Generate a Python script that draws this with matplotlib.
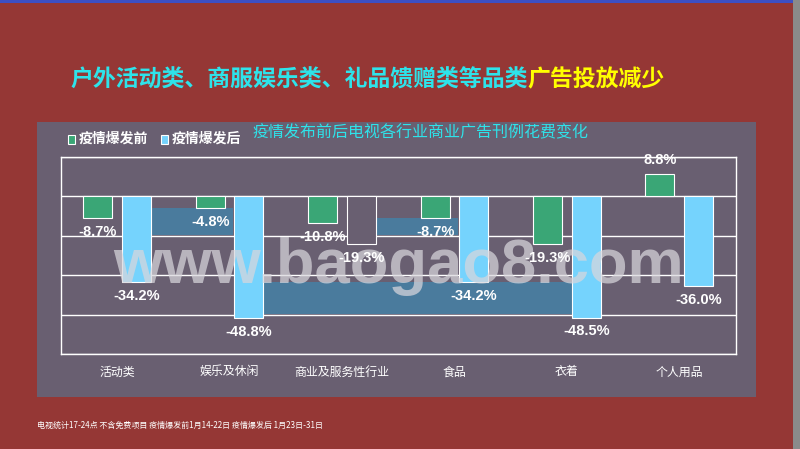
#!/usr/bin/env python

import numpy             as np
import matplotlib.pyplot as plt
from matplotlib.patches import Rectangle

# Data
categories  = ['活动类', '娱乐及休闲', '商业及服务性行业', '食品', '衣着', '个人用品']
before      = [-8.7, -4.8, -10.8, -8.7, -19.3, 8.8]
after       = [-34.2, -48.8, -19.3, -34.2, -48.5, -36.0]
seriesNames = ['疫情爆发前', '疫情爆发后']

titleMain   = '户外活动类、商服娱乐类、礼品馈赠类等品类'
titleTail   = '广告投放减少'
subTitle    = '疫情发布前后电视各行业商业广告刊例花费变化'
footNote    = '电视统计17-24点 不含免费项目 疫情爆发前1月14-22日 疫情爆发后 1月23日-31日'

# Style
bgRed     = '#953735'
panelCol  = '#695f71'
greenCol  = '#3aa676'
blueCol   = '#75d3fd'
bandCol   = '#4a7b9d'
cyanCol   = '#2ee3ea'
cjk       = ['Noto Sans CJK SC', 'DejaVu Sans']
numFont   = ['Liberation Sans', 'DejaVu Sans']

plt.rcParams['font.family'] = cjk

fig = plt.figure(figsize=(8.0, 4.49), dpi=100)
fig.patch.set_facecolor(bgRed)

W, H = 800.0, 449.0
def fx(px): return px / W
def fy(py): return 1.0 - py / H

# background axes for decoration
ax0 = fig.add_axes([0, 0, 1, 1])
ax0.axis('off')
ax0.set_zorder(0)

def figRect(x0, y0, x1, y1, **kw):
    # rectangle given in picture pixels (top-left origin)
    ax0.add_patch(Rectangle((fx(x0), fy(y1)), (x1 - x0) / W, (y1 - y0) / H,
                            transform=fig.transFigure, **kw))

figRect(0, 0, 800, 2.5, facecolor='#3d4fc4', edgecolor='none')
figRect(792.7, 0, 800, 449, facecolor='#8a8a8a', edgecolor='none')
figRect(37.3, 122.3, 755.7, 396.7, facecolor=panelCol, edgecolor='none')

# title
t1 = ax0.text(fx(70), fy(80), titleMain, transform=fig.transFigure, color=cyanCol,
              fontsize=16.5, fontweight='bold', va='center', ha='left')
ax0.annotate(titleTail, xy=(1, 0), xycoords=t1, va='bottom', ha='left',
             color='#ffff00', fontsize=16.5, fontweight='bold')

# legend + subtitle
figRect(67.7, 135, 74.7, 144.3, facecolor=greenCol, edgecolor='white', linewidth=0.8)
ax0.text(fx(78.5), fy(139), seriesNames[0], transform=fig.transFigure, color='white',
         fontsize=10, fontweight='bold', va='center', ha='left')
figRect(160.7, 135, 167.7, 144.3, facecolor=blueCol, edgecolor='white', linewidth=0.8)
ax0.text(fx(171.5), fy(139), seriesNames[1], transform=fig.transFigure, color='white',
         fontsize=10, fontweight='bold', va='center', ha='left')
ax0.text(fx(253), fy(133), subTitle, transform=fig.transFigure, color=cyanCol,
         fontsize=11.5, fontweight='medium', va='center', ha='left')

# footnote
ax0.text(fx(37.3), fy(425), footNote, transform=fig.transFigure, color='white',
         fontsize=5.8, va='center', ha='left')

# main axes
ax = fig.add_axes([fx(61), fy(354.3), (735.5 - 61) / W, (354.3 - 156.7) / H])
ax.set_zorder(1)
ax.set_facecolor('none')
step = 15.8
ax.set_ylim(-4 * step, step)
ax.set_xlim(-0.5, len(categories) - 0.5)
ax.set_yticks(np.arange(-4, 2) * step)
ax.yaxis.grid(True, color='white', linewidth=1.0, zorder=0)
ax.set_axisbelow(True)
for s in ax.spines.values():
    s.set_color('white')
    s.set_linewidth(1.0)
ax.tick_params(axis='y', left=False, labelleft=False)
ax.tick_params(axis='x', length=0, pad=8)
ax.set_xticks(np.arange(len(categories)))
ax.set_xticklabels(categories, color='white', fontsize=8.6)

# decorative watermark bands (axes fraction)
bands = [(0.1334, 0.604, 0.255 - 0.1334, 0.740 - 0.604),
         (0.424, 0.604, 0.5886 - 0.424, 0.690 - 0.604),
         (0.265, 0.204, 0.762 - 0.265, 0.367 - 0.204)]
for bx, by, bw, bh in bands:
    ax.add_patch(Rectangle((bx, by), bw, bh, transform=ax.transAxes,
                           facecolor=bandCol, edgecolor='none', zorder=1))

x      = np.arange(len(categories))
offset = 0.172
width  = 0.258
b1 = ax.bar(x - offset, before, width, color=greenCol, edgecolor='white',
            linewidth=0.8, zorder=2)
b2 = ax.bar(x + offset, after, width, color=blueCol, edgecolor='white',
            linewidth=0.8, zorder=2)
b2[2].set_facecolor(panelCol)

# watermark text
ax.text(0.498, fy(283), 'www.baogao8.com', transform=fig.transFigure,
        family=numFont, fontweight='bold', fontsize=45.5, color='#d8d6dc',
        alpha=0.72, ha='center', va='baseline', zorder=5)

# value labels
for bars, vals in ((b1, before), (b2, after)):
    for rect, v in zip(bars, vals):
        xc = rect.get_x() + rect.get_width() / 2
        off = 10 if v >= 0 else -10
        ax.annotate('%.1f%%' % v, xy=(xc, v), xytext=(0, off),
                    textcoords='offset points', ha='center', va='center',
                    color='white', fontsize=10.5, fontweight='bold',
                    family=numFont, zorder=6)

plt.savefig('out.png', dpi=100, facecolor=fig.get_facecolor())
plt.close()
